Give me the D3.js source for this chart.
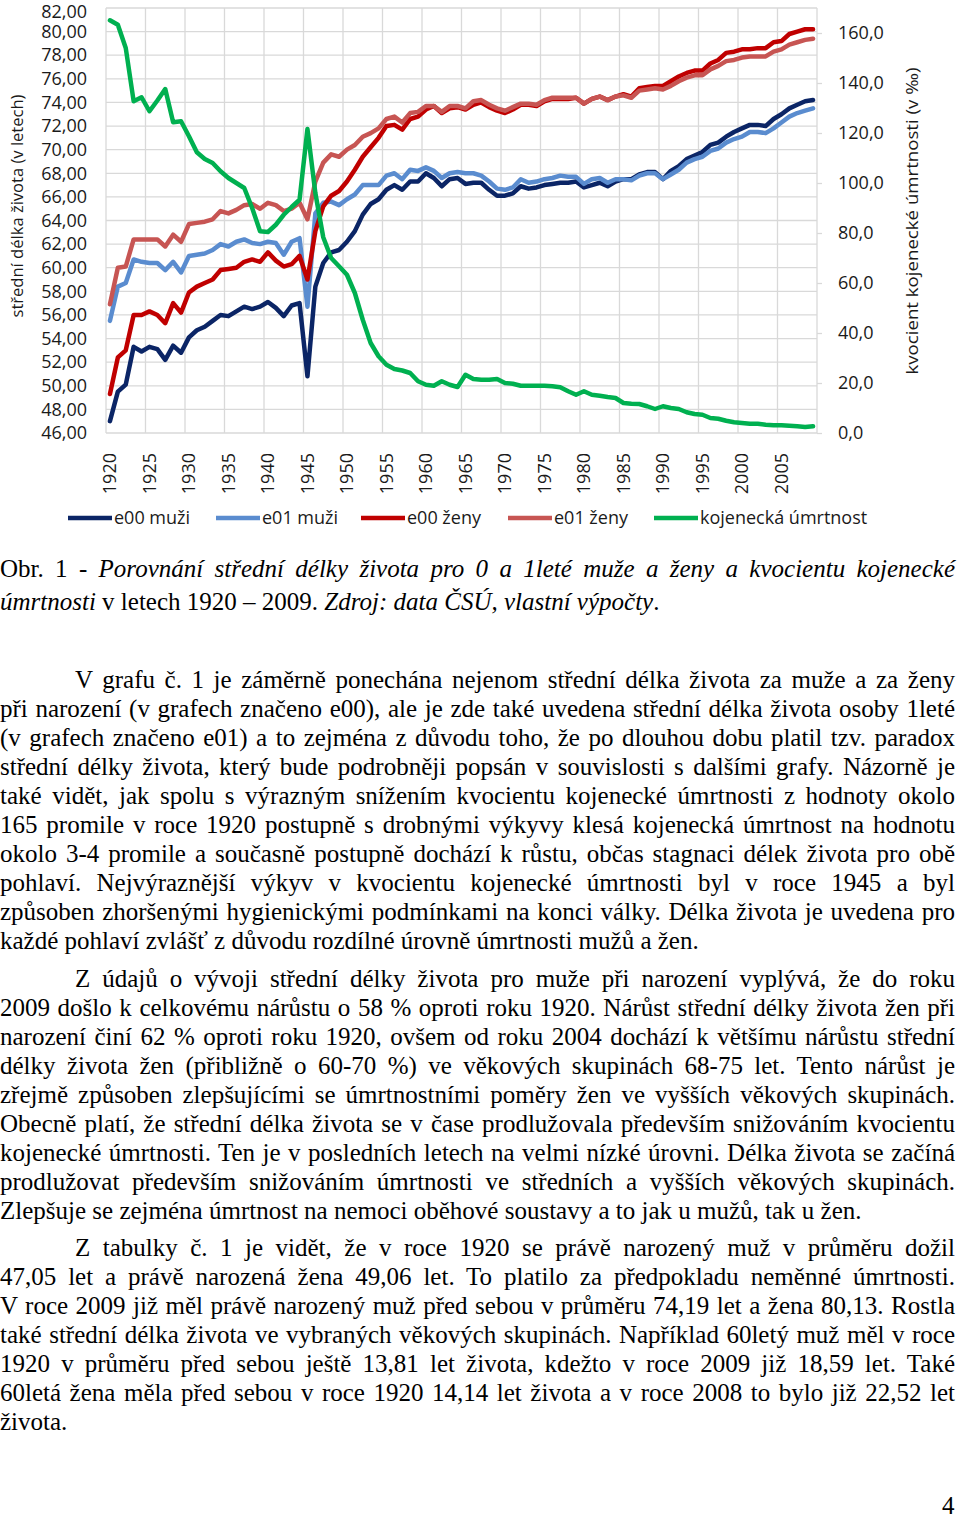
<!DOCTYPE html>
<meta charset="utf-8">
<script src="https://d3js.org/d3.v7.min.js"></script>
<style>
  body { margin: 0; background: #fff; }
  #page { position: relative; width: 960px; height: 1519px; overflow: hidden; background: #fff; }
  #chart { position: absolute; left: 0; top: 0; }
  .ln { position: absolute; left: 0; width: 955px; font-family: "Liberation Serif", "Times New Roman", serif;
        font-size: 25px; line-height: 29px; white-space: nowrap; text-align: justify; text-align-last: justify; color: #000; }
  .ln.last { text-align: left; text-align-last: left; }
</style>
<div id="page"><div id="chart"></div></div>

<script>
// ---- data ----
const years = d3.range(1920, 2010);
const xLabels = [1920, 1925, 1930, 1935, 1940, 1945, 1950, 1955, 1960, 1965, 1970, 1975, 1980, 1985, 1990, 1995, 2000, 2005];
const leftTicks = [46, 48, 50, 52, 54, 56, 58, 60, 62, 64, 66, 68, 70, 72, 74, 76, 78, 80, 82];
const rightTicks = [0, 20, 40, 60, 80, 100, 120, 140, 160];

const e00Muzi = [47.0, 49.5, 50.1, 53.3, 52.9, 53.3, 53.1, 52.2, 53.4, 52.8,
  54.1, 54.7, 55.0, 55.5, 56.0, 55.9, 56.3, 56.7, 56.5, 56.7,
  57.1, 56.6, 55.9, 56.8, 57.0, 50.8, 58.4, 60.4, 61.3, 61.5,
  62.2, 63.1, 64.5, 65.4, 65.8, 66.6, 67.0, 66.6, 67.3, 67.3,
  68.0, 67.6, 66.9, 67.5, 67.6, 67.1, 67.2, 67.2, 66.6, 66.1,
  66.1, 66.3, 66.9, 66.7, 66.8, 67.0, 67.1, 67.2, 67.2, 67.3,
  66.8, 67.0, 67.2, 66.9, 67.3, 67.5, 67.5, 67.9, 68.1, 68.1,
  67.5, 68.2, 68.6, 69.2, 69.5, 69.8, 70.4, 70.6, 71.1, 71.5,
  71.8, 72.1, 72.1, 72.0, 72.6, 73.0, 73.5, 73.8, 74.1, 74.2];

const e01Muzi = [55.5, 58.4, 58.7, 60.7, 60.5, 60.4, 60.4, 59.8, 60.5, 59.6,
  61.0, 61.1, 61.2, 61.5, 62.0, 61.8, 62.2, 62.4, 62.1, 62.0,
  62.2, 62.1, 61.1, 62.2, 62.5, 56.7, 64.6, 65.5, 65.6, 65.3,
  65.8, 66.2, 67.0, 67.0, 67.0, 67.8, 68.0, 67.5, 68.3, 68.2,
  68.5, 68.2, 67.6, 68.0, 68.1, 68.0, 68.0, 67.8, 67.3, 66.7,
  66.6, 66.8, 67.5, 67.2, 67.3, 67.5, 67.6, 67.8, 67.7, 67.7,
  67.1, 67.5, 67.6, 67.2, 67.5, 67.5, 67.4, 67.8, 68.0, 68.0,
  67.5, 67.9, 68.3, 68.9, 69.2, 69.4, 69.9, 70.1, 70.6, 70.9,
  71.1, 71.5, 71.5, 71.4, 71.8, 72.3, 72.8, 73.1, 73.3, 73.5];

const e00Zeny = [49.3, 52.4, 53.0, 56.0, 56.0, 56.3, 56.0, 55.3, 57.0, 56.2,
  57.9, 58.4, 58.7, 59.0, 59.8, 59.9, 60.0, 60.5, 60.7, 60.5,
  61.3, 60.6, 60.1, 60.3, 61.0, 59.0, 63.1, 65.2, 66.1, 66.5,
  67.3, 68.3, 69.4, 70.2, 71.0, 72.0, 72.1, 71.7, 72.6, 72.8,
  73.4, 73.7, 73.1, 73.5, 73.6, 73.4, 73.8, 74.0, 73.6, 73.3,
  73.1, 73.4, 73.8, 73.8, 73.7, 74.1, 74.3, 74.3, 74.3, 74.4,
  73.9, 74.3, 74.5, 74.2, 74.5, 74.7, 74.5, 75.2, 75.3, 75.4,
  75.4, 75.8, 76.2, 76.5, 76.7, 76.7, 77.3, 77.6, 78.2, 78.3,
  78.5, 78.5, 78.6, 78.6, 79.1, 79.2, 79.8, 80.0, 80.2, 80.2];

const e01Zeny = [56.9, 60.0, 60.1, 62.4, 62.4, 62.4, 62.4, 61.8, 62.8, 62.2,
  63.7, 63.8, 63.9, 64.1, 64.8, 64.6, 64.9, 65.3, 65.4, 65.0,
  65.5, 65.3, 64.8, 65.0, 65.5, 64.1, 67.3, 68.9, 69.6, 69.4,
  70.0, 70.4, 71.1, 71.4, 71.8, 72.6, 72.8, 72.3, 73.1, 73.2,
  73.7, 73.7, 73.2, 73.7, 73.7, 73.5, 74.1, 74.2, 73.8, 73.5,
  73.3, 73.6, 73.9, 73.9, 73.8, 74.2, 74.4, 74.4, 74.4, 74.4,
  73.9, 74.3, 74.5, 74.2, 74.5, 74.6, 74.4, 75.0, 75.1, 75.2,
  75.1, 75.4, 75.8, 76.1, 76.3, 76.3, 76.8, 77.1, 77.5, 77.6,
  77.8, 77.9, 77.9, 77.9, 78.3, 78.5, 78.9, 79.1, 79.3, 79.4];

const kojUmrt = [165.1, 163.3, 154.0, 132.7, 134.3, 128.7, 133.0, 137.6, 124.3, 124.7,
  118.7, 112.3, 109.6, 108.0, 104.7, 102.0, 100.0, 98.0, 90.0, 80.7,
  80.4, 83.3, 87.3, 90.4, 93.3, 121.6, 96.0, 78.3, 70.0, 66.7,
  63.3, 56.0, 45.3, 36.0, 30.7, 27.3, 25.6, 25.0, 24.0, 20.7,
  19.3, 18.9, 20.7, 19.3, 18.4, 23.3, 21.6, 21.3, 21.3, 21.6,
  20.0, 19.7, 18.9, 18.9, 18.9, 18.9, 18.7, 18.3, 16.7, 15.3,
  16.7, 15.3, 14.9, 14.4, 14.0, 12.0, 11.7, 11.6, 10.7, 9.6,
  10.7, 10.0, 9.6, 8.3, 7.6, 7.3, 6.0, 5.7, 4.9, 4.3,
  4.0, 3.7, 3.7, 3.3, 3.1, 3.1, 2.9, 2.7, 2.4, 2.7];

const seriesNames = ["e00 muži", "e01 muži", "e00 ženy", "e01 ženy", "kojenecká úmrtnost"];
const seriesColors = ["#0b2566", "#5a8ccf", "#c00000", "#c75553", "#00b050"];

// ---- text below the chart ----
const caption = [
  [["Obr. 1 - ", false], ["Porovnání střední délky života pro 0 a 1leté muže a ženy a kvocientu kojenecké", true]],
  [["úmrtnosti", true], [" v letech 1920 – 2009. ", false], ["Zdroj: data ČSÚ, vlastní výpočty", true], [".", false]]
];
const paragraphs = [
  ["V grafu č. 1 je záměrně ponechána nejenom střední délka života za muže a za ženy",
   "při narození (v grafech značeno e00), ale je zde také uvedena střední délka života osoby 1leté",
   "(v grafech značeno e01) a to zejména z důvodu toho, že po dlouhou dobu platil tzv. paradox",
   "střední délky života, který bude podrobněji popsán v souvislosti s dalšími grafy. Názorně je",
   "také vidět, jak spolu s výrazným snížením kvocientu kojenecké úmrtnosti z hodnoty okolo",
   "165 promile v roce 1920 postupně s drobnými výkyvy klesá kojenecká úmrtnost na hodnotu",
   "okolo 3-4 promile a současně postupně dochází k  růstu, občas stagnaci délek života pro obě",
   "pohlaví. Nejvýraznější výkyv v kvocientu kojenecké úmrtnosti byl v roce 1945 a byl",
   "způsoben zhoršenými hygienickými podmínkami na konci války. Délka života je uvedena pro",
   "každé pohlaví zvlášť z důvodu rozdílné úrovně úmrtnosti mužů a žen."],
  ["Z údajů o vývoji střední délky života pro muže při narození vyplývá, že do roku",
   "2009 došlo k celkovému nárůstu o 58 % oproti roku 1920. Nárůst střední délky života žen při",
   "narození činí 62 % oproti roku 1920, ovšem od roku 2004 dochází k většímu nárůstu střední",
   "délky života žen (přibližně o 60-70 %) ve věkových skupinách 68-75 let. Tento nárůst je",
   "zřejmě způsoben zlepšujícími se úmrtnostními poměry žen ve vyšších věkových skupinách.",
   "Obecně platí, že střední délka života se v čase prodlužovala především snižováním kvocientu",
   "kojenecké úmrtnosti. Ten je v posledních letech na velmi nízké úrovni. Délka života se začíná",
   "prodlužovat především snižováním úmrtnosti ve středních a vyšších věkových skupinách.",
   "Zlepšuje se zejména úmrtnost na nemoci oběhové soustavy a to jak u mužů, tak u žen."],
  ["Z tabulky č. 1 je vidět, že v roce 1920 se právě narozený muž v průměru dožil",
   "47,05 let a právě narozená žena 49,06 let. To platilo za předpokladu neměnné úmrtnosti.",
   "V roce 2009 již měl právě narozený muž před sebou v průměru 74,19 let a žena 80,13. Rostla",
   "také střední délka života ve vybraných věkových skupinách. Například 60letý muž měl v roce",
   "1920 v průměru před sebou ještě 13,81 let života, kdežto v roce 2009 již 18,59 let. Také",
   "60letá žena měla před sebou v roce 1920 14,14 let života a v roce 2008 to bylo již 22,52 let",
   "života."]
];

// ---- chart ----
const plot = {left: 106, right: 817, top: 8, bottom: 433};
const sans = "'Open Sans', 'Noto Sans', sans-serif";
const textColor = "#1a1a1a";
const gridColor = "#d9d9d9";

const cz = d3.formatLocale({decimal: ",", thousands: " ", grouping: [3], currency: ["", " Kč"]});
const fmtL = cz.format(".2f");
const fmtR = cz.format(".1f");

const svg = d3.select("#chart")
    .append("svg")
    .attr("width", 960)
    .attr("height", 545);

const x = d3.scaleBand()
    .domain(years)
    .range([plot.left, plot.right]);
const cx = d => x(d) + x.bandwidth() / 2;

const yL = d3.scaleLinear()
    .domain([46, 82])
    .range([plot.bottom, plot.top]);

const yR = d3.scaleLinear()
    .domain([0, 170])
    .range([plot.bottom, plot.top]);

// gridlines
const grid = svg.append("g").attr("stroke", gridColor).attr("stroke-width", 1.3);
grid.selectAll("line.h")
    .data(leftTicks)
    .join("line")
    .attr("x1", plot.left).attr("x2", plot.right)
    .attr("y1", d => yL(d)).attr("y2", d => yL(d));
grid.selectAll("line.v")
    .data(xLabels.map(d => x(d)).concat([plot.right]))
    .join("line")
    .attr("x1", d => d).attr("x2", d => d)
    .attr("y1", plot.top).attr("y2", plot.bottom);

// left axis
const axL = svg.append("g")
    .attr("transform", `translate(${plot.left},0)`)
    .call(d3.axisLeft(yL).tickValues(leftTicks).tickFormat(fmtL).tickSize(0).tickPadding(19));
axL.select(".domain").remove();
axL.selectAll("text").attr("font-family", sans).attr("font-size", 18).attr("fill", textColor);
// keep the top label inside the page
axL.selectAll(".tick").filter(d => d === 82).select("text").attr("dy", "0.5em");

// right axis
const axR = svg.append("g")
    .attr("transform", `translate(${plot.right},0)`)
    .call(d3.axisRight(yR).tickValues(rightTicks).tickFormat(fmtR).tickSize(5).tickPadding(16));
axR.select(".domain").remove();
axR.selectAll("line").attr("stroke", gridColor).attr("stroke-width", 1.3);
axR.selectAll("text").attr("font-family", sans).attr("font-size", 18).attr("fill", textColor);

// bottom labels
svg.append("g")
    .selectAll("text")
    .data(xLabels)
    .join("text")
    .attr("transform", d => `translate(${cx(d)},453) rotate(-90)`)
    .attr("text-anchor", "end")
    .attr("dy", "0.35em")
    .attr("font-family", sans)
    .attr("font-size", 18)
    .attr("fill", textColor)
    .text(d => d);

// axis titles
svg.append("text")
    .attr("transform", "translate(17,206) rotate(-90)")
    .attr("text-anchor", "middle")
    .attr("dy", "0.35em")
    .attr("font-family", sans)
    .attr("font-size", 16)
    .attr("fill", textColor)
    .attr("textLength", 223)
    .attr("lengthAdjust", "spacingAndGlyphs")
    .text("střední délka života (v letech)");

svg.append("text")
    .attr("transform", "translate(912,221) rotate(-90)")
    .attr("text-anchor", "middle")
    .attr("dy", "0.35em")
    .attr("font-family", sans)
    .attr("font-size", 17)
    .attr("fill", textColor)
    .attr("textLength", 307)
    .attr("lengthAdjust", "spacingAndGlyphs")
    .text("kvocient kojenecké úmrtnosti (v ‰)");

// lines
const lineL = d3.line().x((d, i) => cx(years[i])).y(d => yL(d));
const lineR = d3.line().x((d, i) => cx(years[i])).y(d => yR(d));
const allSeries = [e00Muzi, e01Muzi, e00Zeny, e01Zeny, kojUmrt];

svg.append("g")
    .selectAll("path")
    .data(allSeries)
    .join("path")
    .attr("d", (d, i) => i === 4 ? lineR(d) : lineL(d))
    .attr("fill", "none")
    .attr("stroke", (d, i) => seriesColors[i])
    .attr("stroke-width", 4.5)
    .attr("stroke-linejoin", "round")
    .attr("stroke-linecap", "round");

// legend
const legendX = [68, 216, 361, 508, 654];
const legend = svg.append("g")
    .selectAll("g")
    .data(seriesNames)
    .join("g")
    .attr("transform", (d, i) => `translate(${legendX[i]},518)`);
legend.append("line")
    .attr("x1", 0).attr("x2", 44)
    .attr("stroke", (d, i) => seriesColors[i])
    .attr("stroke-width", 4.5);
legend.append("text")
    .attr("x", 46)
    .attr("dy", "0.35em")
    .attr("font-family", sans)
    .attr("font-size", 18)
    .attr("fill", textColor)
    .text(d => d);

// ---- caption and paragraphs ----
const page = d3.select("#page");

caption.forEach((segs, i) => {
    const div = page.append("div")
        .attr("class", i === caption.length - 1 ? "ln last" : "ln")
        .style("top", (554 + i * 33) + "px");
    segs.forEach(s => div.append("span").style("font-style", s[1] ? "italic" : "normal").text(s[0]));
});

const paraTops = [665, 964, 1233];
paragraphs.forEach((lines, p) => {
    lines.forEach((t, i) => {
        page.append("div")
            .attr("class", i === lines.length - 1 ? "ln last" : "ln")
            .style("top", (paraTops[p] + i * 29) + "px")
            .style("left", i === 0 ? "75px" : "0px")
            .style("width", i === 0 ? "880px" : "955px")
            .text(t);
    });
});

page.append("div")
    .attr("class", "ln last")
    .style("top", "1491px")
    .style("left", "942px")
    .style("width", "18px")
    .text("4");
</script>
